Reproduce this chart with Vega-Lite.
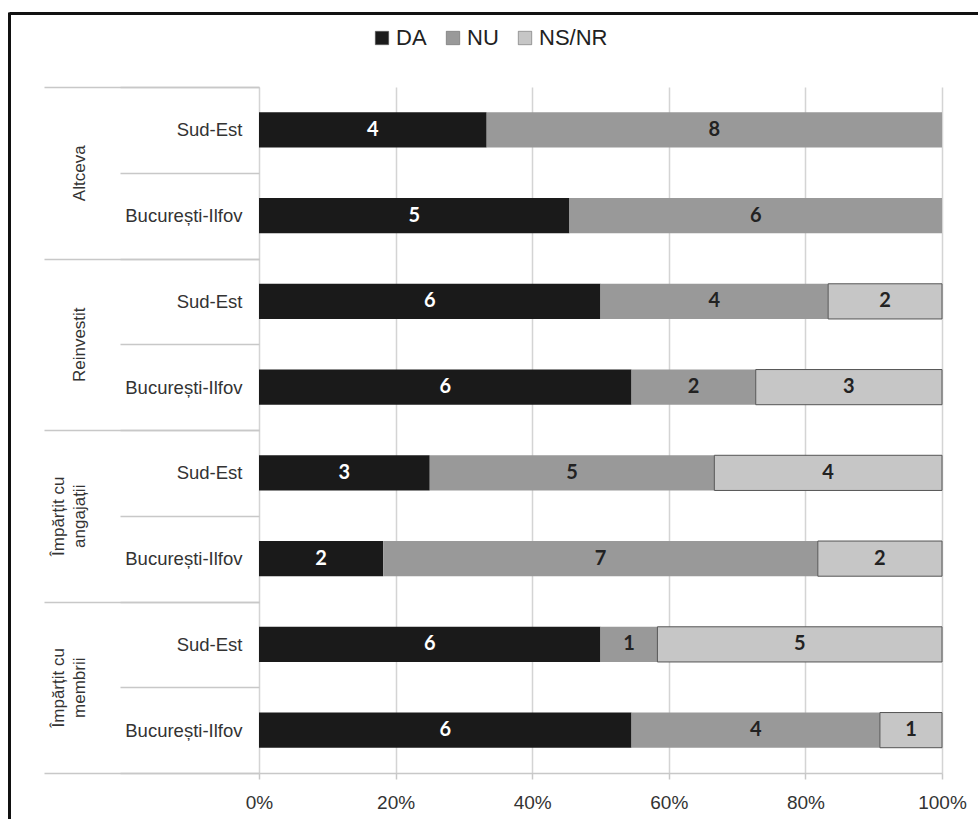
{
  "$schema": "https://vega.github.io/schema/vega-lite/v6.json",
  "width": 683,
  "height": 686,
  "autosize": {"type": "none"},
  "padding": {"left": 259, "top": 87, "right": 36, "bottom": 46},
  "background": "white",
  "config": {"view": {"stroke": null}, "font": "Liberation Sans"},
  "data": {
    "values": [
      {"group": "Altceva", "region": "Sud-Est", "key": "Altceva|Sud-Est", "resp": "DA", "n": 4},
      {"group": "Altceva", "region": "Sud-Est", "key": "Altceva|Sud-Est", "resp": "NU", "n": 8},
      {"group": "Altceva", "region": "București-Ilfov", "key": "Altceva|București-Ilfov", "resp": "DA", "n": 5},
      {"group": "Altceva", "region": "București-Ilfov", "key": "Altceva|București-Ilfov", "resp": "NU", "n": 6},
      {"group": "Reinvestit", "region": "Sud-Est", "key": "Reinvestit|Sud-Est", "resp": "DA", "n": 6},
      {"group": "Reinvestit", "region": "Sud-Est", "key": "Reinvestit|Sud-Est", "resp": "NU", "n": 4},
      {"group": "Reinvestit", "region": "Sud-Est", "key": "Reinvestit|Sud-Est", "resp": "NS/NR", "n": 2},
      {"group": "Reinvestit", "region": "București-Ilfov", "key": "Reinvestit|București-Ilfov", "resp": "DA", "n": 6},
      {"group": "Reinvestit", "region": "București-Ilfov", "key": "Reinvestit|București-Ilfov", "resp": "NU", "n": 2},
      {"group": "Reinvestit", "region": "București-Ilfov", "key": "Reinvestit|București-Ilfov", "resp": "NS/NR", "n": 3},
      {"group": "Împărțit cu angajații", "region": "Sud-Est", "key": "Împărțit cu angajații|Sud-Est", "resp": "DA", "n": 3},
      {"group": "Împărțit cu angajații", "region": "Sud-Est", "key": "Împărțit cu angajații|Sud-Est", "resp": "NU", "n": 5},
      {"group": "Împărțit cu angajații", "region": "Sud-Est", "key": "Împărțit cu angajații|Sud-Est", "resp": "NS/NR", "n": 4},
      {"group": "Împărțit cu angajații", "region": "București-Ilfov", "key": "Împărțit cu angajații|București-Ilfov", "resp": "DA", "n": 2},
      {"group": "Împărțit cu angajații", "region": "București-Ilfov", "key": "Împărțit cu angajații|București-Ilfov", "resp": "NU", "n": 7},
      {"group": "Împărțit cu angajații", "region": "București-Ilfov", "key": "Împărțit cu angajații|București-Ilfov", "resp": "NS/NR", "n": 2},
      {"group": "Împărțit cu membrii", "region": "Sud-Est", "key": "Împărțit cu membrii|Sud-Est", "resp": "DA", "n": 6},
      {"group": "Împărțit cu membrii", "region": "Sud-Est", "key": "Împărțit cu membrii|Sud-Est", "resp": "NU", "n": 1},
      {"group": "Împărțit cu membrii", "region": "Sud-Est", "key": "Împărțit cu membrii|Sud-Est", "resp": "NS/NR", "n": 5},
      {"group": "Împărțit cu membrii", "region": "București-Ilfov", "key": "Împărțit cu membrii|București-Ilfov", "resp": "DA", "n": 6},
      {"group": "Împărțit cu membrii", "region": "București-Ilfov", "key": "Împărțit cu membrii|București-Ilfov", "resp": "NU", "n": 4},
      {"group": "Împărțit cu membrii", "region": "București-Ilfov", "key": "Împărțit cu membrii|București-Ilfov", "resp": "NS/NR", "n": 1}
    ]
  },
  "transform": [{"calculate": "indexof(['DA', 'NU', 'NS/NR'], datum.resp)", "as": "ord"}],
  "layer": [
    {
      "mark": {"type": "bar", "height": {"band": 0.41}, "stroke": "#555555"},
      "encoding": {
        "y": {
          "field": "key", "type": "nominal",
          "sort": ["Altceva|Sud-Est", "Altceva|București-Ilfov", "Reinvestit|Sud-Est", "Reinvestit|București-Ilfov", "Împărțit cu angajații|Sud-Est", "Împărțit cu angajații|București-Ilfov", "Împărțit cu membrii|Sud-Est", "Împărțit cu membrii|București-Ilfov"],
          "scale": {"type": "band", "paddingInner": 0, "paddingOuter": 0},
          "axis": {
            "title": null, "tickBand": "extent", "tickSize": 139, "tickColor": "#c8c8c8", "tickWidth": 1.5,
            "labelExpr": "split(datum.value, '|')[1]", "labelAlign": "right", "labelBaseline": "middle",
            "labelPadding": -122, "labelFontSize": 18.5, "labelColor": "#333333", "labelLimit": 300, "labelOverlap": false,
            "domain": true, "domainColor": "#111111", "domainWidth": 3,
            "encoding": {"domain": {"x": {"value": -250}, "x2": {"value": 740}, "y": {"value": -74}, "y2": {"value": -74}}}
          }
        },
        "x": {
          "field": "n", "type": "quantitative", "stack": "normalize",
          "scale": {"domain": [0, 1]},
          "axis": {
            "values": [0, 0.2, 0.4, 0.6, 0.8, 1], "format": "%", "title": null, "grid": true,
            "gridColor": "#d4d4d4", "gridWidth": 1.5, "domainColor": "#c8c8c8", "domainWidth": 1.5,
            "tickColor": "#c8c8c8", "tickSize": 6, "tickWidth": 1.5, "labelFontSize": 19, "labelColor": "#333333",
            "labelPadding": 14, "labelFlush": false
          }
        },
        "order": {"field": "ord", "type": "quantitative"},
        "color": {
          "field": "resp", "type": "nominal", "sort": ["DA", "NU", "NS/NR"],
          "scale": {"domain": ["DA", "NU", "NS/NR"], "range": ["#1a1a1a", "#999999", "#c6c6c6"]},
          "legend": {
            "orient": "none", "legendX": 112, "legendY": -60, "direction": "horizontal", "title": null,
            "symbolType": "square", "symbolSize": 180, "labelFontSize": 22, "labelColor": "#222222",
            "columnPadding": 15, "labelOffset": 3, "padding": 0, "symbolStrokeWidth": 0.5, "symbolStrokeColor": "#555555"
          }
        },
        "strokeWidth": {"condition": {"test": "datum.resp === 'NS/NR'", "value": 1}, "value": 0}
      }
    },
    {
      "mark": {"type": "text", "font": "Lato", "fontWeight": "bold", "fontSize": 20, "baseline": "middle"},
      "encoding": {
        "y": {
          "field": "key", "type": "nominal",
          "sort": ["Altceva|Sud-Est", "Altceva|București-Ilfov", "Reinvestit|Sud-Est", "Reinvestit|București-Ilfov", "Împărțit cu angajații|Sud-Est", "Împărțit cu angajații|București-Ilfov", "Împărțit cu membrii|Sud-Est", "Împărțit cu membrii|București-Ilfov"],
          "scale": {"type": "band", "paddingInner": 0, "paddingOuter": 0},
          "axis": null
        },
        "x": {"field": "n", "type": "quantitative", "stack": "normalize", "bandPosition": 0.5},
        "order": {"field": "ord", "type": "quantitative"},
        "color": {
          "field": "resp", "type": "nominal", "sort": ["DA", "NU", "NS/NR"],
          "scale": {"domain": ["DA", "NU", "NS/NR"], "range": ["#ffffff", "#222222", "#222222"]},
          "legend": null
        },
        "text": {"field": "n", "type": "quantitative"}
      }
    },
    {
      "mark": {"type": "point", "opacity": 0},
      "encoding": {
        "y": {
          "field": "group", "type": "nominal",
          "sort": ["Altceva", "Reinvestit", "Împărțit cu angajații", "Împărțit cu membrii"],
          "scale": {"type": "band", "paddingInner": 0, "paddingOuter": 0},
          "axis": {
            "orient": "left", "title": null, "tickBand": "extent", "tickSize": 215, "tickColor": "#c8c8c8", "tickWidth": 1.5,
            "labelAngle": -90, "labelAlign": "center", "labelBaseline": "bottom", "labelPadding": -23,
            "labelFontSize": 17, "labelLineHeight": 21,
            "labelColor": "#333333", "labelLimit": 400, "labelOverlap": false,
            "labelExpr": "datum.value == 'Împărțit cu angajații' ? ['Împărțit cu', 'angajații'] : datum.value == 'Împărțit cu membrii' ? ['Împărțit cu', 'membrii'] : ['', datum.value]",
            "domain": true, "domainColor": "#111111", "domainWidth": 3,
            "encoding": {"domain": {"x": {"value": -250}, "x2": {"value": -250}, "y": {"value": -75}, "y2": {"value": 740}}}
          }
        }
      }
    }
  ],
  "resolve": {"scale": {"y": "independent", "color": "independent"}, "axis": {"y": "independent"}}
}
